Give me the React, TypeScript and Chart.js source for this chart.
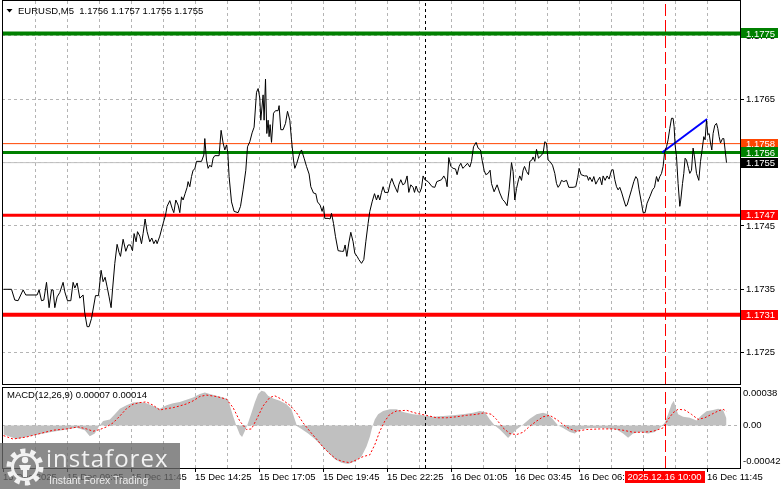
import React, { useEffect, useRef } from "react";
import { Chart, registerables } from "chart.js";

Chart.register(...registerables);

const FONT = '"Liberation Sans", Arial, sans-serif';
const GRID = "#b4b4b4";

// ---------- header ----------
const symbolTitle = "EURUSD,M5";
const headerOHLC = ["1.1756", "1.1757", "1.1755", "1.1755"];
const macdTitle = "MACD(12,26,9)";
const macdHeaderValues = ["0.00007", "0.00014"];

// ---------- price series (bar index from 15 Dec 06:25, M5) ----------
const barIndex = [
  0, 4, 5.65, 7.3, 9.8, 11.15, 16.8, 17.8, 19, 20.15, 21.5, 22.8, 24, 24.8, 25.65, 26.8, 28.15, 29.8, 30.65, 32,
  33.65, 34.8, 35.65, 36.8, 38.15, 39.8, 40.65, 41.8, 42.8, 44, 46, 47.5, 48.8, 49.8, 50.8, 51.8, 52.8, 53.8, 54.5, 55.65,
  56.8, 57.8, 58.5, 59.8, 61.15, 62.3, 63.5, 64.5, 65.3, 66.3, 67, 68.15, 69, 69.8, 70.8, 71.8, 73.15, 74.15, 75.15, 76.15,
  76.8, 78.15, 79.8, 81, 81.8, 83.15, 84.3, 85.15, 86.15, 87.3, 88.15, 89, 89.8, 90.8, 91.8, 92.3, 93.15, 94, 94.8, 95.65,
  96.5, 99, 100.15, 100.65, 101.5, 102.3, 103.15, 104, 104.8, 105.65, 107.8, 108.8, 109.8, 110.65, 111.5, 112.15, 112.8, 114, 115.3, 117.3,
  118.5, 119.8, 121.15, 122, 123.15, 124.3, 125.3, 126.5, 127.3, 128.15, 128.65, 129.8, 130.3, 131, 131.65, 132.3, 132.8, 133.3, 134, 135,
  136, 137.3, 137.8, 138.65, 139.8, 141, 142, 143.15, 144, 145, 145.65, 146.65, 148.15, 149, 150.3, 151.5, 152.8, 153.65, 155, 156.15,
  157, 158.3, 159.3, 160, 160.65, 162.3, 163.3, 164, 165, 166, 167.3, 169, 170, 170.8, 171.65, 172.65, 173.65, 174.8, 175.65, 176.8,
  177.65, 179, 180.15, 181.15, 182.3, 183.15, 184.3, 185.5, 186.5, 187.3, 188.15, 189, 189.8, 190.65, 192.3, 193.3, 194.15, 195.15, 196, 197,
  197.65, 198.65, 199.65, 200.65, 201.8, 202.65, 203.65, 204.8, 205.5, 206.3, 207.3, 208.15, 209, 209.8, 210.65, 212.3, 214.3, 215.65, 216.65, 219,
  220.15, 221.15, 221.8, 222.65, 223.65, 224.8, 226, 226.8, 227.8, 228.65, 229.65, 230.65, 232, 233.15, 234, 235, 236.3, 237.3, 238.5, 239.3,
  240.3, 241.15, 242.3, 243.3, 244, 245.3, 246.8, 248.15, 249.5, 250.65, 251.8, 252.8, 254, 254.8, 255.65, 256.5, 257.5, 258.15, 259, 259.8,
  260.5, 261.5, 262.5, 263.15, 264.15, 264.8, 265.65, 266.5, 267.5, 268.15, 269, 269.8, 270.65, 271.5, 272.3, 273.15, 274.5, 275.65, 276.5, 277.3,
  278.15, 279, 280.15, 281.5, 282.65, 284.8, 286.15, 287.15, 287.8, 288.8, 290.5, 291.8, 292.5, 293.15, 294.3, 295.15, 296.15, 297.15, 298.15, 299.15,
  299.8, 300.8, 301.8, 302.8, 304, 304.8, 305.65, 306.5, 307.3, 308.15, 309.15, 310.15, 311.15, 311.8, 312.8, 314, 315.15, 316.15, 317, 317.8,
  319, 319.8, 320.8, 321.8, 323.15, 324.5, 325.5, 326.5, 327.3, 328.15, 329, 329.8, 330.5, 331.5, 332.3, 333.15, 334, 334.8, 335.3, 335.8,
  336.5, 337.3, 338.15, 338.65, 339.5, 340.15, 340.8, 341.5, 342.5, 343.15, 344, 344.8, 345.5, 346.5, 347.65, 348.5, 349.3, 350.15, 350.8, 351.5,
  352.15, 352.8, 353.5, 354.15, 354.8, 355.65, 356.5, 357.15, 357.8, 358.5, 359.5, 360.15, 360.8, 361.5,
];
const closePrice = [
  1.1735, 1.1735, 1.17333, 1.17332, 1.17349, 1.17341, 1.17341, 1.17349, 1.17332, 1.17333, 1.17361, 1.17321, 1.17349, 1.17349, 1.17321, 1.17338, 1.17345, 1.17361, 1.17346, 1.17332,
  1.17332, 1.17361, 1.17352, 1.1736, 1.17336, 1.17341, 1.17312, 1.17291, 1.17291, 1.17304, 1.1734, 1.1734, 1.1738, 1.17362, 1.17369, 1.17354, 1.17338, 1.17321, 1.17349, 1.17391,
  1.17421, 1.17408, 1.17402, 1.17429, 1.1741, 1.1742, 1.1742, 1.17411, 1.17438, 1.17425, 1.17441, 1.17434, 1.17422, 1.17438, 1.17461, 1.17441, 1.17425, 1.17431, 1.17422, 1.17428,
  1.17422, 1.17434, 1.17454, 1.17467, 1.17481, 1.1749, 1.17478, 1.17471, 1.17491, 1.17483, 1.17471, 1.17496, 1.17491, 1.17501, 1.17511, 1.1752, 1.17512, 1.17528, 1.17538, 1.1754,
  1.17552, 1.17552, 1.17562, 1.17588, 1.17554, 1.17541, 1.17546, 1.17543, 1.17557, 1.17561, 1.17561, 1.17601, 1.17581, 1.1757, 1.17578, 1.17566, 1.17528, 1.17488, 1.17473, 1.17471,
  1.17481, 1.17507, 1.17538, 1.17575, 1.17583, 1.17597, 1.17606, 1.17661, 1.17667, 1.17652, 1.17617, 1.17657, 1.17617, 1.17682, 1.17596, 1.17617, 1.17591, 1.1761, 1.17582, 1.17628,
  1.17632, 1.17632, 1.1764, 1.17602, 1.17602, 1.17612, 1.17631, 1.17617, 1.17586, 1.17554, 1.17541, 1.17549, 1.17565, 1.1757, 1.17557, 1.17544, 1.17532, 1.17512, 1.17502, 1.17501,
  1.17488, 1.17483, 1.17473, 1.17481, 1.17462, 1.17462, 1.17461, 1.1747, 1.17454, 1.17433, 1.17411, 1.1741, 1.1741, 1.1742, 1.17402, 1.17423, 1.1744, 1.17425, 1.17407, 1.17402,
  1.17397, 1.17391, 1.17397, 1.17425, 1.17454, 1.17473, 1.17488, 1.17501, 1.17491, 1.17499, 1.17491, 1.17503, 1.17512, 1.17503, 1.17503, 1.17517, 1.17525, 1.17516, 1.1751, 1.17503,
  1.17515, 1.17523, 1.17515, 1.17517, 1.17529, 1.17503, 1.17515, 1.17511, 1.17503, 1.17513, 1.17504, 1.17503, 1.1751, 1.17529, 1.17523, 1.1752, 1.17512, 1.17511, 1.1752, 1.17523,
  1.17529, 1.17523, 1.17512, 1.17558, 1.17544, 1.17541, 1.1754, 1.17531, 1.17544, 1.17549, 1.17541, 1.17544, 1.17549, 1.17543, 1.17552, 1.17575, 1.17582, 1.17573, 1.1757, 1.17554,
  1.17538, 1.17531, 1.17533, 1.17538, 1.17517, 1.17504, 1.17515, 1.17502, 1.17492, 1.17488, 1.17482, 1.17507, 1.1755, 1.17536, 1.17491, 1.17509, 1.17523, 1.17529, 1.17522, 1.17538,
  1.17544, 1.17536, 1.17531, 1.17552, 1.17554, 1.17559, 1.17552, 1.17571, 1.17557, 1.17559, 1.17562, 1.17565, 1.17583, 1.17581, 1.17554, 1.17552, 1.17546, 1.17533, 1.17517, 1.17511,
  1.17515, 1.17522, 1.1752, 1.17522, 1.17511, 1.17511, 1.17512, 1.17527, 1.17541, 1.17531, 1.17529, 1.17529, 1.17522, 1.17527, 1.1752, 1.17528, 1.17516, 1.17522, 1.17527, 1.17515,
  1.17529, 1.17522, 1.17529, 1.17524, 1.17538, 1.17539, 1.17523, 1.17512, 1.17507, 1.17511, 1.17502, 1.17491, 1.17481, 1.17483, 1.17494, 1.17507, 1.1752, 1.17528, 1.17524, 1.17507,
  1.17486, 1.17471, 1.17471, 1.17486, 1.17496, 1.17507, 1.17511, 1.17528, 1.1752, 1.17528, 1.17533, 1.17544, 1.17565, 1.17575, 1.17586, 1.17604, 1.1762, 1.1762, 1.17607, 1.17578,
  1.17559, 1.17517, 1.17481, 1.17491, 1.17517, 1.17533, 1.17557, 1.17554, 1.17541, 1.17533, 1.17538, 1.17573, 1.17559, 1.17533, 1.17522, 1.17552, 1.1757, 1.17591, 1.17586, 1.17617,
  1.17594, 1.17596, 1.17581, 1.1757, 1.17596, 1.17609, 1.17612, 1.17604, 1.17591, 1.17581, 1.17588, 1.17588, 1.1757, 1.1755,
];

// ---------- MACD(12,26,9) ----------
const macdBar = [
  0, 6.5, 14.8, 23.15, 31.5, 36.5, 40.65, 43.15, 45.65, 47.8, 49.8, 53.15, 55.65, 58.15, 61.5, 64.8, 68.15, 71.5, 74.8, 78.15,
  81.5, 84.8, 88.15, 91.5, 94.8, 98.15, 100.65, 103.15, 106.5, 109.8, 112.3, 113.5, 114.8, 116.5, 118.15, 119.3, 120.65, 122.3, 124, 125.65,
  127.3, 129, 130.65, 132.3, 134.8, 138.15, 141.5, 144, 145.65, 146.8, 149, 152.3, 155.65, 159, 162.3, 165.65, 169, 172.3, 175.65, 179,
  181.5, 183.15, 184.5, 185.65, 187.3, 189.8, 193.15, 196.5, 199.8, 204.8, 209.8, 214.8, 219.8, 224.8, 229.8, 234.8, 238.15, 240.65, 243.15, 245.65,
  248.15, 250.65, 252.3, 253.9, 256.5, 259.8, 263.15, 266.5, 269.8, 272.3, 274.8, 277.3, 279.8, 283.15, 285.65, 288.15, 293.15, 299.8, 306.5, 309.8,
  312.3, 314.8, 318.15, 322.3, 325.65, 328.15, 330.65, 332.3, 334, 335.15, 336.15, 337.3, 339.8, 343.15, 346.5, 349, 351.5, 354.8, 357.3, 359.8,
  361.5,
];
const macdMain = [
  -0.00009, -0.000134, -0.0001, -0.000067, -0.00004, -0.000023, -0.000047, -0.000107, -0.00008, -0.000007, 0.000043, 0.00006, 0.00011, 0.000166, 0.0002, 0.000226, 0.000233, 0.00022, 0.000193, 0.000166,
  0.0002, 0.00022, 0.000233, 0.000253, 0.000276, 0.00031, 0.000326, 0.00031, 0.000293, 0.000276, 0.00026, 0.000176, 0.000093, -0.000007, -0.00009, -0.000114, -0.000057, 0.000026, 0.000126, 0.000226,
  0.00031, 0.000343, 0.000333, 0.000293, 0.000266, 0.000243, 0.00021, 0.00016, 0.00006, -0.000007, -0.000034, -0.00008, -0.000134, -0.0002, -0.000267, -0.000334, -0.000367, -0.00038, -0.000357, -0.000307,
  -0.000207, -0.000115, -0.000007, 0.00006, 0.00011, 0.000143, 0.00016, 0.00016, 0.000133, 0.00011, 0.0001, 0.000086, 0.000093, 0.0001, 0.00011, 0.000126, 0.000143, 0.000133, 0.00006, 0,
  -0.00004, -0.00009, -0.000124, -0.00009, -0.00004, 0.00001, 0.000066, 0.00011, 0.000126, 0.00011, 0.00006, 0, -0.000024, -0.000064, -0.00008, -0.00004, -0.000024, -0.000024, -0.00004, -0.00008,
  -0.00012, -0.00008, -0.000064, -0.00008, -0.000064, -0.000024, 0.000026, 0.00011, 0.00021, 0.000243, 0.000176, 0.00011, 0.000086, 0.000076, 0.00005, 0.0001, 0.00014, 0.000153, 0.000166, 0.000153,
  0.00007,
];
const signalBar = [
  0, 4.8, 11.5, 18.15, 24.8, 31.5, 37.3, 41.5, 44.8, 48.15, 51.5, 54.8, 58.15, 61.5, 64.8, 68.15, 71.5, 74.8, 78.15, 81.5,
  84.8, 88.15, 91.5, 94.8, 98.15, 101.5, 106.5, 111.5, 114.8, 118.15, 121.5, 124, 126.5, 129.8, 133.15, 135.65, 139, 143.15, 146.5, 149.8,
  153.15, 156.5, 159.8, 163.15, 166.5, 169.8, 173.15, 176.5, 179.8, 183.15, 185.65, 188.15, 190.65, 193.15, 196.5, 201.5, 206.5, 211.5, 216.5, 221.5,
  226.5, 231.5, 236.5, 240.65, 244, 246.5, 249.8, 253.15, 256.5, 259.8, 263.15, 266.5, 269.8, 273.15, 276.5, 279.8, 283.15, 286.5, 291.5, 298.15,
  304.8, 309.8, 314.8, 319.8, 324.8, 329.8, 332.3, 334.8, 337.3, 340.65, 344, 347.3, 350.65, 354, 357.3, 359.8, 361.5,
];
const macdSignal = [
  -0.0001, -0.000134, -0.000114, -0.00008, -0.000047, -0.000034, -0.000014, -0.000034, -0.000057, -0.00004, -0.000014, 0.000026, 0.000093, 0.000166, 0.00021, 0.000226, 0.000233, 0.0002, 0.000153, 0.000166,
  0.000176, 0.000193, 0.000213, 0.000243, 0.000286, 0.0003, 0.000286, 0.00026, 0.000176, 0.000043, -0.00004, -0.000034, 0.00006, 0.000193, 0.000276, 0.000293, 0.00026, 0.0002, 0.000126, 0.000026,
  -0.000057, -0.000134, -0.000214, -0.00028, -0.000334, -0.000357, -0.000367, -0.00034, -0.000307, -0.00029, -0.00019, -0.000057, 0.000043, 0.00011, 0.000143, 0.00015, 0.00012, 0.0001, 0.000076, 0.000076,
  0.000086, 0.0001, 0.00011, 0.000126, 0.00011, 0.00006, -0.000024, -0.00008, -0.00009, -0.000067, -0.000007, 0.000043, 0.000086, 0.0001, 0.00006, 0.00001, -0.000034, -0.000057, -0.00004, -0.000034,
  -0.000034, -0.000047, -0.000067, -0.000067, -0.000057, -0.000024, 0.00006, 0.000126, 0.00016, 0.000153, 0.00011, 0.00006, 0.000076, 0.00011, 0.000143, 0.00016, 0.00014,
];

// ---------- axes / annotations ----------
const priceTicks = [1.1725, 1.1735, 1.1745, 1.1755, 1.1765, 1.1775];
const gridBars = [16, 32, 48, 64, 80, 96, 112, 128, 144, 160, 176, 192, 208, 224, 240, 256, 272, 288, 304, 320, 336, 352];
const timeLabelBars = [0, 32, 64, 96, 128, 160, 192, 224, 256, 288, 320, 352];
const timeLabels = [
  "15 Dec 2025", "15 Dec 09:05", "15 Dec 11:45", "15 Dec 14:25", "15 Dec 17:05", "15 Dec 19:45",
  "15 Dec 22:25", "16 Dec 01:05", "16 Dec 03:45", "16 Dec 06:25", "16 Dec 09:05", "16 Dec 11:45",
];

const levelPrices = [1.17754, 1.17566, 1.17467, 1.1731];
const levelLabels = ["1.1775", "1.1756", "1.1747", "1.1731"];
const levelColors = ["#008000", "#008000", "#ff0000", "#ff0000"];
const levelWidths = [4, 3, 3, 4];

const askPrice = 1.1758;
const askLabel = "1.1758";
const bidPrice = 1.1755;
const bidLabel = "1.1755";

const trendBars = [329.3, 351.8];
const trendPrices = [1.17566, 1.17619];

const daySeparatorBar = 211;
const eventBar = 331;
const eventLabel = "2025.12.16 10:00";

const macdAxisValues = [0.00038, 0, -0.00042];
const macdAxisLabels = ["0.00038", "0.00", "-0.00042"];

// visible extents
const X_MIN = -0.75;
const X_MAX = 368.25;
const P_MIN = 1.1720047;
const P_MAX = 1.1780521;
const M_MIN = -0.00042;
const M_MAX = 0.00038;

function lineDs(points: any[], color: string, width: number, order: number, dash: number[] = []) {
  return {
    data: points,
    borderColor: color,
    borderWidth: width,
    borderDash: dash,
    pointRadius: 0,
    fill: false,
    tension: 0,
    order,
  };
}

const xScaleBase = {
  type: "linear" as const,
  position: "bottom" as const,
  min: X_MIN,
  max: X_MAX,
  afterBuildTicks: (s: any) => {
    s.ticks = gridBars.map((v) => ({ value: v }));
  },
  afterFit: (s: any) => {
    s.height = 0;
    s.paddingLeft = 0;
    s.paddingRight = 0;
  },
  ticks: { display: false },
  grid: { color: GRID, lineWidth: 1, drawTicks: false },
  border: { display: false, dash: [3, 3] },
};

const mainOverlay = {
  id: "mainOverlay",
  afterDraw(chart: any) {
    const { ctx, chartArea: a, scales } = chart;
    const y = scales.y;
    ctx.save();
    ctx.setLineDash([]);
    ctx.strokeStyle = "#000";
    ctx.lineWidth = 1;
    ctx.strokeRect(a.left + 0.5, a.top - 0.5, a.right - a.left, a.bottom - a.top + 1);

    // header
    ctx.fillStyle = "#000";
    ctx.beginPath();
    ctx.moveTo(6.5, 9);
    ctx.lineTo(12.5, 9);
    ctx.lineTo(9.5, 12.5);
    ctx.closePath();
    ctx.fill();
    ctx.font = `9.5px ${FONT}`;
    ctx.textBaseline = "middle";
    ctx.textAlign = "left";
    ctx.fillText(`${symbolTitle}  ${headerOHLC.join(" ")}`, 18, 11);

    // price boxes
    const boxes: [number, string, string][] = [
      [levelPrices[0], levelLabels[0], levelColors[0]],
      [askPrice, askLabel, "#ff4500"],
      [levelPrices[1], levelLabels[1], levelColors[1]],
      [bidPrice, bidLabel, "#000000"],
      [levelPrices[2], levelLabels[2], levelColors[2]],
      [levelPrices[3], levelLabels[3], levelColors[3]],
    ];
    for (const [v, label, color] of boxes) {
      const py = y.getPixelForValue(v);
      ctx.fillStyle = color;
      ctx.fillRect(741, Math.round(py - 5), 37, 10);
      ctx.fillStyle = "#fff";
      ctx.fillText(label, 746, py + 0.5);
    }
    ctx.restore();
  },
};

const macdOverlay = {
  id: "macdOverlay",
  afterDraw(chart: any) {
    const { ctx, chartArea: a, scales } = chart;
    const x = scales.x;
    const y = scales.y;
    ctx.save();
    ctx.setLineDash([]);
    ctx.strokeStyle = "#000";
    ctx.lineWidth = 1;
    ctx.strokeRect(a.left + 0.5, a.top + 0.5, a.right - a.left, a.bottom - a.top);

    ctx.font = `9.5px ${FONT}`;
    ctx.textBaseline = "middle";
    ctx.textAlign = "left";
    ctx.fillStyle = "#000";
    ctx.fillText(`${macdTitle} ${macdHeaderValues.join(" ")}`, 7, 10.5);

    // right axis labels
    macdAxisValues.forEach((v, k) => {
      let py = y.getPixelForValue(v);
      if (k === 0) py += 6;
      if (k === macdAxisValues.length - 1) py -= 7;
      ctx.fillText(macdAxisLabels[k], 743, py);
    });

    // time labels
    timeLabelBars.forEach((b, k) => {
      const px = Math.floor(x.getPixelForValue(b));
      ctx.beginPath();
      ctx.moveTo(px + 0.5, a.bottom);
      ctx.lineTo(px + 0.5, a.bottom + 4);
      ctx.stroke();
      ctx.fillText(timeLabels[k], px, 92);
    });

    // event time box
    const ex = x.getPixelForValue(eventBar);
    ctx.fillStyle = "#ff0000";
    ctx.fillRect(Math.round(ex - 41), 86, 80, 12);
    ctx.fillStyle = "#fff";
    ctx.textAlign = "center";
    ctx.fillText(eventLabel, ex - 1, 92);
    ctx.restore();
  },
};

function mainConfig(): any {
  const pricePoints = barIndex.map((b, k) => ({ x: b, y: closePrice[k] }));
  const datasets: any[] = [
    lineDs(pricePoints, "#000000", 1, 0),
    lineDs(trendBars.map((b, k) => ({ x: b, y: trendPrices[k] })), "#0000ff", 2, 1),
  ];
  levelPrices.forEach((v, k) => {
    datasets.push(lineDs([{ x: X_MIN, y: v }, { x: X_MAX, y: v }], levelColors[k], levelWidths[k], 2));
  });
  datasets.push(lineDs([{ x: X_MIN, y: askPrice }, { x: X_MAX, y: askPrice }], "#ff4500", 1, 3));
  datasets.push(lineDs([{ x: X_MIN, y: bidPrice }, { x: X_MAX, y: bidPrice }], "#c0c0c0", 1, 3));
  datasets.push(lineDs([{ x: daySeparatorBar, y: P_MIN }, { x: daySeparatorBar, y: P_MAX }], "#000000", 1, 4, [3, 3]));
  datasets.push(lineDs([{ x: eventBar, y: P_MIN }, { x: eventBar, y: P_MAX }], "#ff0000", 1, 4, [12, 4]));

  return {
    type: "line",
    data: { datasets },
    plugins: [mainOverlay],
    options: {
      animation: false,
      responsive: false,
      devicePixelRatio: 1,
      events: [],
      layout: { padding: { left: 2, top: 1, right: 0, bottom: 1 } },
      plugins: { legend: { display: false }, tooltip: { enabled: false }, title: { display: false } },
      scales: {
        x: xScaleBase,
        y: {
          type: "linear",
          position: "right",
          min: P_MIN,
          max: P_MAX,
          afterBuildTicks: (s: any) => {
            s.ticks = priceTicks.map((v) => ({ value: v }));
          },
          afterFit: (s: any) => {
            s.width = 41;
            s.paddingTop = 0;
            s.paddingBottom = 0;
          },
          ticks: {
            callback: (v: any) => Number(v).toFixed(4),
            font: { family: FONT, size: 9.5 },
            color: "#000",
            padding: 2,
          },
          grid: { color: GRID, lineWidth: 1, drawTicks: true, tickLength: 4, tickColor: "#000", tickWidth: 1 },
          border: { display: false, dash: [3, 3] },
        },
      },
    },
  };
}

function macdConfig(): any {
  const datasets: any[] = [
    lineDs(signalBar.map((b, k) => ({ x: b, y: macdSignal[k] })), "#ff0000", 1, 0, [2, 2]),
    lineDs([{ x: eventBar, y: M_MIN }, { x: eventBar, y: M_MAX }], "#ff0000", 1, 1, [12, 4]),
    lineDs([{ x: daySeparatorBar, y: M_MIN }, { x: daySeparatorBar, y: M_MAX }], "#000000", 1, 1, [3, 3]),
    {
      data: macdBar.map((b, k) => ({ x: b, y: macdMain[k] })),
      borderColor: "rgba(0,0,0,0)",
      borderWidth: 0,
      backgroundColor: "#c0c0c0",
      fill: "origin",
      pointRadius: 0,
      tension: 0,
      order: 2,
    },
  ];
  return {
    type: "line",
    data: { datasets },
    plugins: [macdOverlay],
    options: {
      animation: false,
      responsive: false,
      devicePixelRatio: 1,
      events: [],
      layout: { padding: { left: 2, top: 2, right: 0, bottom: 21 } },
      plugins: { legend: { display: false }, tooltip: { enabled: false }, title: { display: false } },
      scales: {
        x: xScaleBase,
        y: {
          type: "linear",
          position: "right",
          min: M_MIN,
          max: M_MAX,
          afterBuildTicks: (s: any) => {
            s.ticks = [{ value: 0 }];
          },
          afterFit: (s: any) => {
            s.width = 41;
            s.paddingTop = 0;
            s.paddingBottom = 0;
          },
          ticks: { display: false },
          grid: { color: GRID, lineWidth: 1, drawTicks: false },
          border: { display: false, dash: [3, 3] },
        },
      },
    },
  };
}

export default function App() {
  const mainRef = useRef<HTMLCanvasElement>(null);
  const macdRef = useRef<HTMLCanvasElement>(null);

  useEffect(() => {
    const c1 = new Chart(mainRef.current as HTMLCanvasElement, mainConfig());
    const c2 = new Chart(macdRef.current as HTMLCanvasElement, macdConfig());
    return () => {
      c1.destroy();
      c2.destroy();
    };
  }, []);

  return (
    <div style={{ position: "fixed", left: 0, top: 0, width: 781, height: 489, background: "#fff", overflow: "hidden" }}>
      <canvas ref={mainRef} width={781} height={385} style={{ position: "absolute", left: 0, top: 0, width: 781, height: 385 }} />
      <canvas ref={macdRef} width={781} height={104} style={{ position: "absolute", left: 0, top: 385, width: 781, height: 104 }} />
      <div
        style={{
          position: "absolute",
          left: 0,
          top: 443,
          width: 180,
          height: 46,
          background: "rgba(105,105,105,0.78)",
          pointerEvents: "none",
        }}
      >
        <svg width="42" height="46" style={{ position: "absolute", left: 4, top: 0 }}>
          <circle cx="21" cy="24" r="16" fill="none" stroke="#f2f2f2" strokeWidth="5" strokeDasharray="5 5.05" />
          <circle cx="21" cy="24" r="12.5" fill="none" stroke="#f2f2f2" strokeWidth="3" />
          <circle cx="21" cy="17" r="3.2" fill="#f2f2f2" />
          <path d="M15 22 L27 22 L25 27 L23 27 L23 34 L19 34 L19 27 L17 27 Z" fill="#f2f2f2" />
        </svg>
        <div
          style={{
            position: "absolute",
            left: 46,
            top: 1,
            font: '24px "Open Sans", sans-serif',
            letterSpacing: "1px",
            lineHeight: "28px",
            color: "#f2f2f2",
            whiteSpace: "nowrap",
          }}
        >
          instaforex
        </div>
        <div
          style={{
            position: "absolute",
            left: 49,
            top: 31,
            font: '10.5px "Liberation Sans", sans-serif',
            lineHeight: "12px",
            color: "#ececec",
            whiteSpace: "nowrap",
          }}
        >
          Instant Forex Trading
        </div>
      </div>
    </div>
  );
}
